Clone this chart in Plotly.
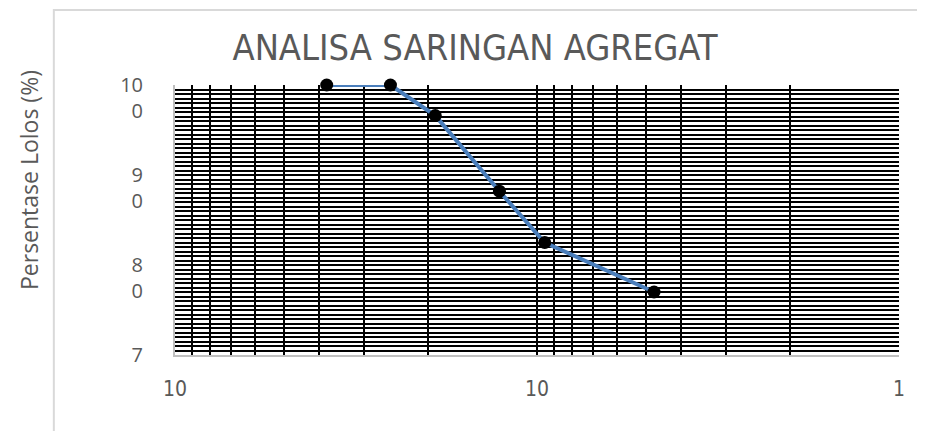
import plotly.graph_objects as go

# Data
sieve_mm = [38.1, 25.4, 19.1, 12.7, 9.52, 4.75]
pass_pct = [100, 100, 96.6, 88.2, 82.5, 77.0]

x_grid_vals = [100, 90, 80, 70, 60, 50, 40, 30, 20, 10, 9, 8, 7, 6, 5, 4, 3, 2, 1]
x_label_map = {100: "10", 10: "10", 1: "1"}
y_tick_vals = [70, 80, 90, 100]
y_tick_text = ["7<br> ", "8<br>0", "9<br>0", "10<br>0"]

# page body has an 8px margin; figure sized to fit the 925x439 window
OFF = 8
W, H = 925 - 2 * OFF, 439 - 2 * OFF
L, T = 175 - OFF, 85 - OFF
R = W - (904 - OFF)
B = H - (355 - OFF)

fig = go.Figure()
fig.add_trace(go.Scatter(
    x=sieve_mm, y=pass_pct, mode="lines+markers",
    line=dict(color="#4a7ebb", width=4),
    marker=dict(color="black", size=13),
    showlegend=False, cliponaxis=False,
))

pw = W - L - R
ph = H - T - B
fx = (53 - OFF - L) / pw
fy = 1 + (T - (10 - OFF)) / ph

cond = "DejaVu Sans Condensed, Liberation Sans Narrow, Arial Narrow, sans-serif"

fig.update_layout(
    width=W, height=H,
    margin=dict(l=L, r=R, t=T, b=B, pad=0),
    paper_bgcolor="white", plot_bgcolor="white",
    title=dict(text="ANALISA SARINGAN AGREGAT", x=(475 - OFF) / W, xanchor="center",
               y=1 - (47 - OFF) / H, yanchor="middle",
               font=dict(family=cond, size=36, color="#595959")),
    xaxis=dict(
        type="log", range=[2, 0], tickmode="array",
        tickvals=x_grid_vals,
        ticktext=[x_label_map.get(v, "") for v in x_grid_vals],
        showgrid=True, gridcolor="black", gridwidth=2,
        showline=True, linecolor="#bfbfbf", linewidth=2,
        ticks="", ticklabelstandoff=14,
        tickfont=dict(family=cond, size=21, color="#595959"),
        zeroline=False,
    ),
    yaxis=dict(
        range=[70, 100], tickmode="array",
        tickvals=y_tick_vals, ticktext=y_tick_text,
        showgrid=True, gridcolor="black", gridwidth=2,
        minor=dict(dtick=0.5, showgrid=True, gridcolor="black", gridwidth=2, ticks=""),
        showline=True, linecolor="#bfbfbf", linewidth=2,
        ticks="", ticklabelstandoff=26, ticklabelshift=13,
        tickfont=dict(family="Open Sans", size=20, color="#595959"),
        zeroline=False,
    ),
    shapes=[dict(type="path", xref="paper", yref="paper",
                 path=f"M {fx},-1 L {fx},{fy} L 1.2,{fy}",
                 line=dict(color="#d9d9d9", width=2), layer="below")],
    annotations=[dict(text="Persentase Lolos (%)", textangle=-90,
                      xref="paper", yref="paper",
                      x=(28 - OFF - L) / pw, y=1 - (180 - OFF - T) / ph,
                      xanchor="center", yanchor="middle", showarrow=False,
                      font=dict(family="Open Sans", size=23, color="#595959"))],
)

fig.write_html("out.html")
